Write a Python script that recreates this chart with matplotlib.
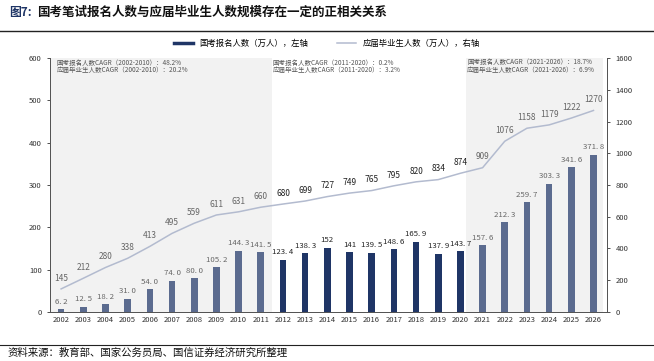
import matplotlib.pyplot as plt
from matplotlib.lines import Line2D

plt.rcParams['font.family'] = ['Noto Sans CJK SC', 'DejaVu Sans']

years = [str(y) for y in range(2002, 2027)]
applicants = [6.2, 12.5, 18.2, 31.0, 54.0, 74.0, 80.0, 105.2, 144.3, 141.5,
              123.4, 138.3, 152, 141, 139.5, 148.6, 165.9, 137.9, 143.7,
              157.6, 212.3, 259.7, 303.3, 341.6, 371.8]
applicant_labels = ['6. 2', '12. 5', '18. 2', '31. 0', '54. 0', '74. 0', '80. 0',
                    '105. 2', '144. 3', '141. 5', '123. 4', '138. 3', '152', '141',
                    '139. 5', '148. 6', '165. 9', '137. 9', '143. 7', '157. 6',
                    '212. 3', '259. 7', '303. 3', '341. 6', '371. 8']
graduates = [145, 212, 280, 338, 413, 495, 559, 611, 631, 660, 680, 699, 727,
             749, 765, 795, 820, 834, 874, 909, 1076, 1158, 1179, 1222, 1270]

cagr_notes = [
    ('国考报名人数CAGR（2002-2010）：48.2%', '应届毕业生人数CAGR（2002-2010）：20.2%'),
    ('国考报名人数CAGR（2011-2020）：0.2%', '应届毕业生人数CAGR（2011-2020）：3.2%'),
    ('国考报名人数CAGR（2021-2026）：18.7%', '应届毕业生人数CAGR（2021-2026）：6.9%'),
]

muted = '#5b6b8f'
navy = '#1f3566'
line_col = '#b3bbcf'
shade = '#f2f2f2'
gray_txt = '#666666'

fig = plt.figure(figsize=(6.54, 3.61), dpi=100)
ax = fig.add_axes([0.0765, 0.136, 0.852, 0.703])
ax2 = ax.twinx()

x = list(range(len(years)))
ax.axvspan(-0.5, 9.5, color=shade, zorder=0, lw=0)
ax.axvspan(18.25, 24.45, color=shade, zorder=0, lw=0)

colors = [navy if 10 <= i <= 18 else muted for i in x]
ax.bar(x, applicants, width=0.3, color=colors, zorder=2)
for i, (v, lab) in enumerate(zip(applicants, applicant_labels)):
    c = '#222222' if 10 <= i <= 18 else gray_txt
    ax.annotate(lab, (i, v), xytext=(0, 2.5), textcoords='offset points',
                ha='center', va='bottom', fontsize=5.6, color=c)

ax2.plot(x, graduates, color=line_col, lw=1.1, zorder=3)
for i, v in enumerate(graduates):
    c = '#222222' if 10 <= i <= 18 else gray_txt
    ax2.annotate(str(v), (i, v), xytext=(0, 4.5), textcoords='offset points',
                 ha='center', va='bottom', fontsize=6, color=c)

ax.set_xlim(-0.5, 24.62)
ax.set_ylim(0, 600)
ax2.set_ylim(0, 1600)
ax.set_yticks(range(0, 601, 100))
ax2.set_yticks(range(0, 1601, 200))
ax.set_xticks(x)
ax.set_xticklabels(years)
ax.tick_params(axis='x', length=0, labelsize=5.5, colors='#333333', pad=3)
ax.tick_params(axis='y', length=2.5, labelsize=5.5, colors='#333333', width=0.6)
ax2.tick_params(axis='y', length=2.5, labelsize=5.5, colors='#333333', width=0.6)
for a in (ax, ax2):
    a.spines['top'].set_visible(False)
    for s in ('left', 'right', 'bottom'):
        a.spines[s].set_color('#555555')
        a.spines[s].set_linewidth(0.7)
ax2.patch.set_visible(False)

note_pos = [(-0.2, 588), (9.52, 588), (18.3, 590)]
for (n1, n2), (nx, ny) in zip(cagr_notes, note_pos):
    ax.text(nx, ny, n1, fontsize=4.7, color='#555555', va='center')
    ax.text(nx, ny - 17, n2, fontsize=4.7, color='#555555', va='center')

handles = [Line2D([0], [0], color=navy, lw=2.5),
           Line2D([0], [0], color=line_col, lw=1.1)]
fig.legend(handles, ['国考报名人数（万人），左轴', '应届毕业生人数（万人），右轴'],
           loc='center', bbox_to_anchor=(0.5, 0.88), ncol=2, frameon=False,
           fontsize=6, handlelength=2.2, columnspacing=3.5)

fig.text(0.014, 0.965, '图7:', fontsize=8.5, color='#1f3566', fontweight='bold',
         va='center')
fig.text(0.056, 0.965, '国考笔试报名人数与应届毕业生人数规模存在一定的正相关关系',
         fontsize=9, color='#111111', fontweight='bold', va='center')
fig.add_artist(Line2D([0, 1], [0.915, 0.915], color='#222222', lw=1.0,
                      transform=fig.transFigure))
fig.add_artist(Line2D([0, 1], [0.043, 0.043], color='#222222', lw=0.8,
                      transform=fig.transFigure))
fig.text(0.012, 0.022, '资料来源：教育部、国家公务员局、国信证券经济研究所整理',
         fontsize=7.5, color='#111111', va='center')

fig.savefig('out.png', dpi=100)
